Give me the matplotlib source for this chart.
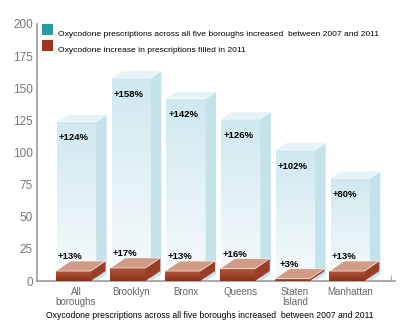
import numpy as np
import matplotlib
matplotlib.use("Agg")
import matplotlib.pyplot as plt
from matplotlib.patches import Polygon, Rectangle
from matplotlib.colors import LinearSegmentedColormap

plt.rcParams['font.family'] = ['Liberation Sans', 'DejaVu Sans']

# data
boroughs = ["All\nboroughs", "Brooklyn", "Bronx", "Queens", "Staten\nIsland", "Manhattan"]
rise_2007_2011 = [124, 158, 142, 126, 102, 80]
rise_2011 = [13, 17, 13, 16, 3, 13]
yticks = [0, 25, 50, 75, 100, 125, 150, 175, 200]
legend_labels = ["Oxycodone prescriptions across all five boroughs increased  between 2007 and 2011",
                 "Oxycodone increase in prescriptions filled in 2011"]
caption = "Oxycodone prescriptions across all five boroughs increased  between 2007 and 2011"

blue_cmap = LinearSegmentedColormap.from_list("glass", ["#f7fbfc", "#cfe8ef"])
brown_cmap = LinearSegmentedColormap.from_list("slab", ["#8e2f1a", "#b35a3e"])


def box(ax, x0, w, h, dx, dy, cmap, side, top, z):
    front = Rectangle((x0, 0), w, h, facecolor="none", edgecolor="none", zorder=z)
    ax.add_patch(front)
    grad = np.linspace(0, 1, 64).reshape(-1, 1)
    im = ax.imshow(grad, cmap=cmap, extent=[x0, x0 + w, 0, h], origin="lower",
                   aspect="auto", zorder=z)
    im.set_clip_path(front)
    ax.add_patch(Polygon([(x0 + w, 0), (x0 + w + dx, dy), (x0 + w + dx, h + dy), (x0 + w, h)],
                         facecolor=side, edgecolor="none", zorder=z))
    ax.add_patch(Polygon([(x0, h), (x0 + w, h), (x0 + w + dx, h + dy), (x0 + dx, h + dy)],
                         facecolor=top, edgecolor="white", linewidth=0.4, zorder=z))


fig = plt.figure(figsize=(4.12, 3.28), dpi=100)
ax = fig.add_axes([0.09, 0.143, 0.869, 0.784])

x = np.arange(len(boroughs))
for i in x:
    left = i - 0.35
    box(ax, left, 0.72, rise_2007_2011[i], 0.19, 5.5, blue_cmap, "#c4e2ea", "#e4f3f6", 2)
    ax.text(left + 0.04, rise_2007_2011[i] - 12.5, "+%d%%" % rise_2007_2011[i],
            fontsize=6.8, fontweight="bold", ha="left", va="center", zorder=5)
    h = rise_2011[i] * 0.6
    box(ax, left - 0.02, 0.64, h, 0.27, 7.8, brown_cmap, "#9c3e27", "#d09c86", 3)
    ax.text(left + 0.25, h + 11, "+%d%%" % rise_2011[i],
            fontsize=6.8, fontweight="bold", ha="center", va="center", zorder=5)

ax.set_xlim(-0.71, 5.83)
ax.set_ylim(0, 200)
ax.set_yticks(yticks)
ax.set_xticks(x)
ax.set_xticklabels(boroughs, color="#666666", fontsize=7, linespacing=1.1)
ax.tick_params(axis="y", length=0, labelsize=8.5, labelcolor="#777777", pad=3)
ax.tick_params(axis="x", length=0, pad=4)
ax.set_xticks([5.75], minor=True)
ax.tick_params(axis="x", which="minor", direction="in", length=4, color="#999999")
for s in ["top", "right"]:
    ax.spines[s].set_visible(False)
for s in ["left", "bottom"]:
    ax.spines[s].set_color("#999999")
    ax.spines[s].set_linewidth(1.2)
ax.patch.set_visible(False)

# legend
for k, (lab, col) in enumerate(zip(legend_labels, ["#2a9aa2", "#a0351f"])):
    yy = 0.909 - k * 0.049
    fig.patches.append(Rectangle((0.102, yy - 0.017), 0.027, 0.035, facecolor=col,
                                 edgecolor="none", transform=fig.transFigure, figure=fig))
    fig.text(0.141, yy - 0.014, lab, fontsize=6.1, va="center", ha="left")

fig.text(0.51, 0.037, caption, fontsize=6.2, ha="center", va="center")

fig.savefig("out.png", dpi=100)
